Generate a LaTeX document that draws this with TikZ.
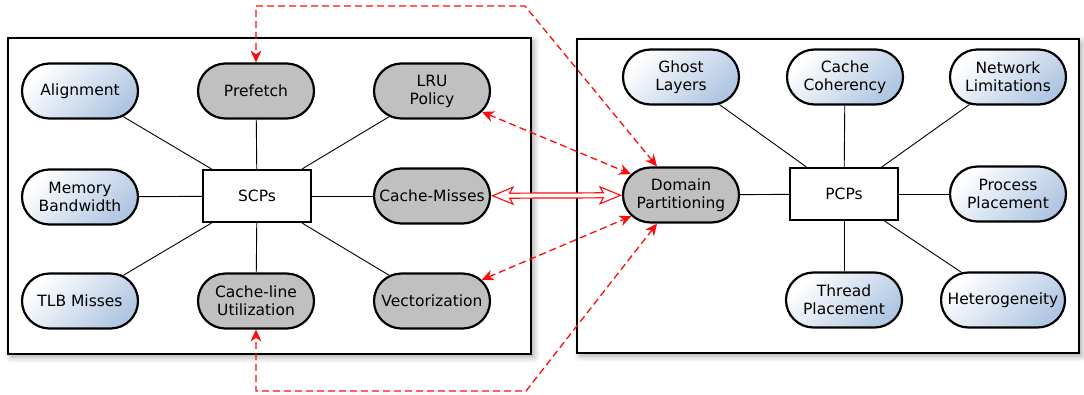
\documentclass[tikz,border=0pt]{standalone}
\usepackage{fontspec}
\setmainfont{DejaVu Sans}
\usetikzlibrary{shapes.misc,shadows.blur,arrows.meta}
\definecolor{pillblue}{RGB}{176,198,226}
\definecolor{pillgray}{RGB}{192,192,192}
\definecolor{linkred}{RGB}{255,10,10}
\tikzset{
  pane/.style={draw=black, line width=2.4pt, fill=white, inner sep=0pt,
    blur shadow={shadow xshift=3pt, shadow yshift=-3pt, shadow blur radius=6pt, shadow opacity=35}},
  pill/.style={rounded rectangle, draw=black, line width=2.2pt,
    minimum width=118pt, minimum height=55pt, inner sep=1pt, align=center,
    font=\fontsize{15.5}{18}\selectfont},
  bluepill/.style={pill, top color=white, bottom color=pillblue, shading angle=45},
  graypill/.style={pill, fill=pillgray},
  hub/.style={draw=black, line width=2pt, fill=white, minimum width=108pt,
    minimum height=52pt, font=\fontsize{15.5}{18}\selectfont},
  spoke/.style={draw=black, line width=0.9pt},
  link/.style={draw=linkred, line width=1.3pt, dash pattern=on 7pt off 4pt,
    {Stealth[length=12pt,width=11pt]}-{Stealth[length=12pt,width=11pt]}},
  twinhead/.tip={Stealth[open, length=23pt, width=19pt, inset=5pt, line width=1.1pt]},
  twinouter/.style={draw=linkred, line width=6.2pt, {twinhead}-{twinhead}},
  twininner/.style={draw=white, line width=3.8pt, shorten <=17pt, shorten >=17pt}
}
\begin{document}
\begin{tikzpicture}[x=1pt,y=-1pt]
\useasboundingbox (0,0) rectangle (1084,394);

% the two panes
\node[pane, minimum width=523pt, minimum height=316pt] (scpbox) at (269.5,196) {};
\node[pane, minimum width=502pt, minimum height=314pt] (pcpbox) at (828,196) {};

% single-core side
\node[hub] (scp) at (257,196) {SCPs};
\node[bluepill] (al) at (80,91) {Alignment};
\node[graypill] (pf) at (256,91) {Prefetch};
\node[graypill] (lru) at (432,91) {LRU\\Policy};
\node[bluepill] (mb) at (80,197) {Memory\\Bandwidth};
\node[graypill] (cm) at (432,196) {Cache-Misses};
\node[bluepill] (tlb) at (80,301) {TLB Misses};
\node[graypill] (cu) at (256,301) {Cache-line\\Utilization};
\node[graypill] (vec) at (432,301) {Vectorization};

% parallel side
\node[hub] (pcp) at (844,194) {PCPs};
\node[bluepill] (gl) at (681,77) {Ghost\\Layers};
\node[bluepill] (cc) at (845,77) {Cache\\Coherency};
\node[bluepill] (nl) at (1008,77) {Network\\Limitations};
\node[graypill] (dp) at (681,195) {Domain\\Partitioning};
\node[bluepill] (pp) at (1008,194) {Process\\Placement};
\node[bluepill] (tp) at (844,300) {Thread\\Placement};
\node[bluepill, minimum width=126pt] (het) at (1003,300) {Heterogeneity};

% spokes
\foreach \n in {al,pf,lru,mb,cm,tlb,cu,vec}
  \draw[spoke] (scp) -- (\n);
\foreach \n in {gl,cc,nl,dp,pp,tp,het}
  \draw[spoke] (pcp) -- (\n);

% cross links
\coordinate (topright) at (525,6);
\coordinate (topleft) at (256,6);
\coordinate (botleft) at (256,391);
\coordinate (botright) at (526,391);
\draw[link] (dp.130) -- (topright) -- (topleft) -- (pf);
\draw[link] (dp.230) -- (botright) -- (botleft) -- (cu);
\draw[link] (lru) -- (dp);
\draw[link] (vec) -- (dp);
% hollow double arrow
\draw[twinouter] (cm) -- (dp);
\draw[twininner] (cm) -- (dp);
\end{tikzpicture}
\end{document}
